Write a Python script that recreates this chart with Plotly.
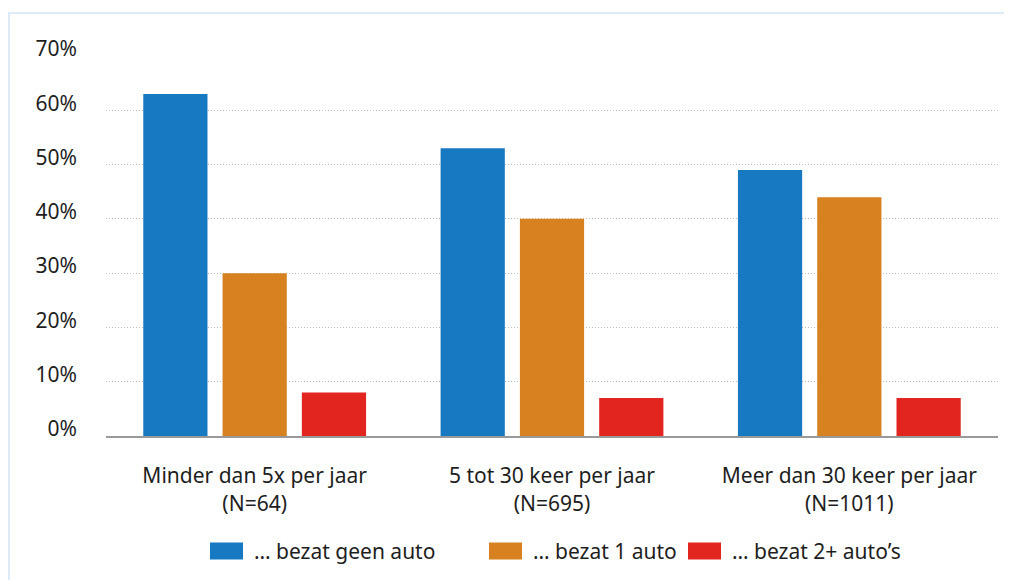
import plotly.graph_objects as go

categories = [
    "Minder dan 5x per jaar<br>(N=64)",
    "5 tot 30 keer per jaar<br>(N=695)",
    "Meer dan 30 keer per jaar<br>(N=1011)",
]
series_names = ["… bezat geen auto", "… bezat 1 auto", "… bezat 2+ auto’s"]
geen_auto = [63, 53, 49]
een_auto = [30, 40, 44]
twee_plus = [8, 7, 7]
colors = ["#1779C1", "#D78121", "#E3251F"]
y_ticks = [0, 10, 20, 30, 40, 50, 60, 70]

FONT = "Noto Sans"
TEXT = "#1E1E1E"
FS = 21

fig = go.Figure()
for name, vals, col in zip(series_names, [geen_auto, een_auto, twee_plus], colors):
    fig.add_trace(
        go.Bar(
            x=categories,
            y=vals,
            name=name,
            marker=dict(color=col, line=dict(width=0)),
            showlegend=False,
        )
    )

# the page adds an 8px body margin, so the figure is drawn 8px smaller
fig.update_layout(
    width=1004,
    height=572,
    barmode="group",
    bargap=0.2,
    bargroupgap=0.19,
    plot_bgcolor="white",
    paper_bgcolor="white",
    margin=dict(l=98, r=14, t=48, b=144),
    font=dict(family=FONT, size=FS, color=TEXT),
)
fig.update_yaxes(
    range=[0, 70],
    tickvals=y_ticks,
    ticktext=[f"{v}%" for v in y_ticks],
    showgrid=True,
    gridcolor="#BDBDBD",
    griddash="1px,2px",
    gridwidth=1,
    zeroline=False,
    showline=False,
    ticks="",
    ticklabelstandoff=28,
    ticklabelshift=-7,
)
fig.update_xaxes(
    showline=True,
    linecolor="#999999",
    linewidth=2,
    ticks="",
    ticklabelstandoff=20,
)

# outer frame (light blue, runs off the right and bottom edges)
fig.add_shape(
    type="rect", xref="paper", yref="paper",
    x0=(1 - 98) / 892, x1=1.2, y0=-0.6, y1=(428 - 5) / 380,
    line=dict(color="#DDEBF7", width=2), layer="below",
)

# custom legend with wide swatches
legend_x = [210, 489, 688]
ly = (436 - 551) / 380
for px, name, col in zip(legend_x, series_names, colors):
    fig.add_shape(
        type="rect", xref="paper", yref="paper",
        x0=(px - 106) / 892, x1=(px + 33 - 106) / 892,
        y0=ly - 8.5 / 380, y1=ly + 8.5 / 380,
        fillcolor=col, line=dict(width=0),
    )
    fig.add_annotation(
        xref="paper", yref="paper",
        x=(px + 42 - 106) / 892, y=ly,
        text=name, showarrow=False,
        xanchor="left", yanchor="middle",
        font=dict(family=FONT, size=FS, color=TEXT),
    )

fig.write_html("out.html")
